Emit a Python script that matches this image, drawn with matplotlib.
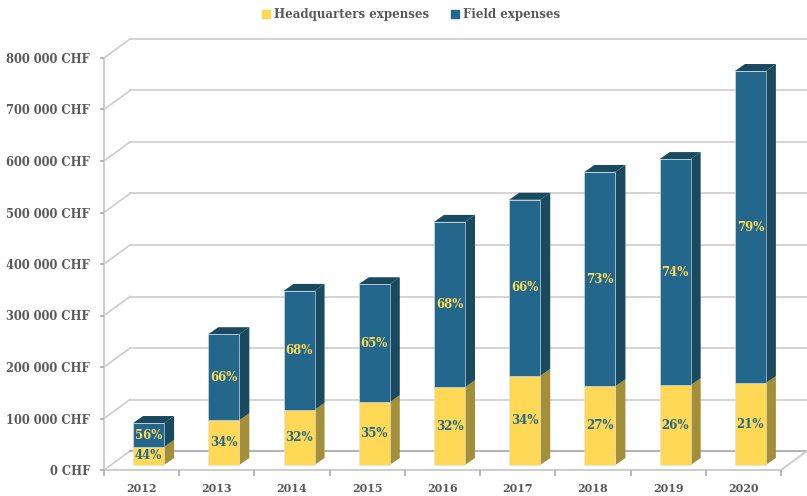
#!/usr/bin/env python3
"""Stacked fake-3D bars: headquarters vs field expenses per year."""
import matplotlib

matplotlib.use("Agg")
import matplotlib.pyplot as plt
from matplotlib.patches import Patch, Polygon

years = ["2012", "2013", "2014", "2015", "2016", "2017", "2018", "2019", "2020"]
hq = [35000, 87000, 107000, 122000, 151000, 173000, 153000, 155000, 159000]
totals = [81500, 254000, 338000, 351000, 472000, 515000, 569000, 594000, 765000]
hq_pct = ["44%", "34%", "32%", "35%", "32%", "34%", "27%", "26%", "21%"]
field_pct = ["56%", "66%", "68%", "65%", "68%", "66%", "73%", "74%", "79%"]
y_ticks = [0, 100000, 200000, 300000, 400000, 500000, 600000, 700000, 800000]
y_labels = ["0 CHF", "100 000 CHF", "200 000 CHF", "300 000 CHF", "400 000 CHF",
            "500 000 CHF", "600 000 CHF", "700 000 CHF", "800 000 CHF"]

YELLOW, YELLOW_DK = "#FFD855", "#A38F39"
BLUE, BLUE_DK = "#23688C", "#1A4A60"
GRID = "#CDCDCD"
TEXT = "#595959"

W, H = 807, 496
PX_X = 677 / 9  # pixels per category
PX_Y = 412 / 800000  # pixels per CHF
DEPTH_X, DEPTH_Y = 26 / PX_X, 19 / PX_Y  # wall depth in data units
BAR_W = 31 / PX_X

plt.rcParams["font.family"] = ["DejaVu Serif"]
plt.rcParams["font.weight"] = "bold"

fig = plt.figure(figsize=(W / 100, H / 100), dpi=100)
ax = fig.add_axes([104 / W, 1 - 470 / H, 677 / W, 412 / H])
ax.set_xlim(0, 9)
ax.set_ylim(0, 800000)
ax.patch.set_visible(False)
for s in ax.spines.values():
    s.set_visible(False)


def poly(pts, color, z=3, edge="none"):
    ax.add_patch(Polygon(pts, closed=True, facecolor=color, edgecolor=edge, lw=0.4,
                         clip_on=False, zorder=z))


# walls and floor
for v in y_ticks:
    ax.plot([0, DEPTH_X], [v, v + DEPTH_Y], color=GRID, lw=1.2, clip_on=False, zorder=1)
    ax.plot([DEPTH_X, 9 + DEPTH_X], [v + DEPTH_Y, v + DEPTH_Y], color=GRID if v else "#A6A6A6",
            lw=1.2, clip_on=False, zorder=1)
ax.plot([0, 0], [0, 800000], color=GRID, lw=1.4, clip_on=False, zorder=1)
ax.plot([0, 9, 9 + DEPTH_X], [0, 0, DEPTH_Y], color=GRID, lw=1.4, clip_on=False, zorder=1)

# bars, sitting part way into the floor
off_x, off_y = 7 / PX_X, 5 / PX_Y
side_x, side_y = 10 / PX_X, 7 / PX_Y


def box(i, lo, hi, front, side, top=None):
    x0 = i + 0.5 + off_x - BAR_W / 2
    x1 = x0 + BAR_W
    y0, y1 = lo + off_y, hi + off_y
    poly([(x1, y0), (x1 + side_x, y0 + side_y), (x1 + side_x, y1 + side_y), (x1, y1)], side)
    if top:
        poly([(x0, y1), (x0 + side_x, y1 + side_y), (x1 + side_x, y1 + side_y), (x1, y1)], top)
    poly([(x0, y0), (x1, y0), (x1, y1), (x0, y1)], front, z=4, edge="#E4E4E4")


for i in range(len(years)):
    box(i, 0, hq[i], YELLOW, YELLOW_DK)
    box(i, hq[i], totals[i], BLUE, BLUE_DK, BLUE_DK)
    cx = i + 0.5 + off_x
    ax.text(cx, hq[i] / 2 + off_y, hq_pct[i], color=BLUE, ha="center", va="center",
            fontsize=8.5, zorder=5)
    ax.text(cx, (hq[i] + totals[i]) / 2 + off_y, field_pct[i], color=YELLOW, ha="center",
            va="center", fontsize=8.5, zorder=5)

ax.set_xticks(range(10))
ax.set_xticklabels([])
ax.set_xticks([i + 0.5 for i in range(9)], labels=years, minor=True)
ax.tick_params(axis="x", which="major", length=4, width=1.2, color="#ABABAB")
ax.tick_params(axis="x", which="minor", length=0, pad=9, labelsize=8.0, labelcolor=TEXT)
ax.set_yticks(y_ticks, labels=y_labels)
ax.tick_params(axis="y", length=3, width=1.2, color="#ABABAB", pad=7, labelsize=8.3, labelcolor=TEXT)

handles = [Patch(color=YELLOW, label="Headquarters expenses"), Patch(color=BLUE, label="Field expenses")]
fig.legend(handles=handles, loc="center", bbox_to_anchor=(411 / W, 1 - 14.5 / H), ncol=2, frameon=False,
           fontsize=8.5, labelcolor=TEXT, handlelength=0.68, handleheight=0.68, handletextpad=0.3,
           columnspacing=1.9)

fig.savefig("out.png", dpi=100)
